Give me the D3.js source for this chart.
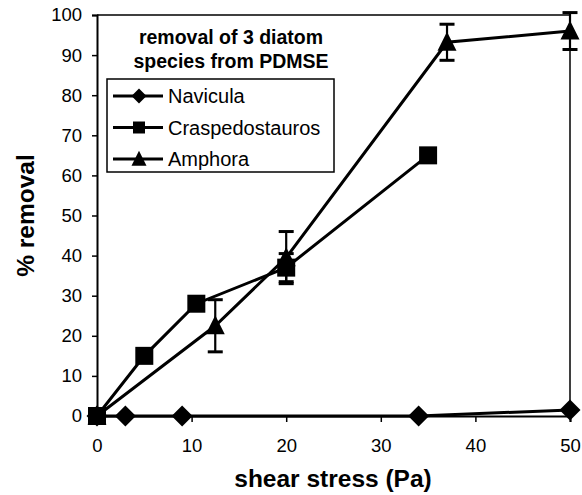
<!DOCTYPE html>
<html>
<head>
<meta charset="utf-8">
<script src="https://cdn.jsdelivr.net/npm/d3@7"></script>
<style>
  body { margin: 0; background: #fff; }
  text { font-family: Arial, "Liberation Sans", sans-serif; fill: #000; }
</style>
</head>
<body>
<div id="chart"></div>
<script>
// data
const xTicks = [0, 10, 20, 30, 40, 50];
const yTicks = [0, 10, 20, 30, 40, 50, 60, 70, 80, 90, 100];

const naviculaX = [0, 3, 9, 34, 50];
const naviculaY = [0, 0, 0, 0, 1.5];

const craspX = [0, 5, 10.5, 20, 35];
const craspY = [0, 15, 28, 37, 65];
const craspErr = [0, 0, 0, 3.5, 0];

const amphoraX = [0, 12.5, 20, 37, 50];
const amphoraY = [0, 22.5, 39.5, 93.2, 96];
const amphoraErr = [0, 6.5, 6.5, 4.5, 4.6];

const seriesNames = ["Navicula", "Craspedostauros", "Amphora"];
const titleLines = ["removal of 3 diatom", "species from PDMSE"];

const W = 582, H = 495;
const margin = { top: 15, right: 12, bottom: 79, left: 97 };

const svg = d3.select("#chart").append("svg")
    .attr("width", W)
    .attr("height", H);

const x = d3.scaleLinear().domain([0, 50]).range([margin.left, W - margin.right]);
const y = d3.scaleLinear().domain([0, 100]).range([H - margin.bottom, margin.top]);

// marker shapes, w = full width
const shapes = {
  diamond: w => `M0,${-w / 2}L${w / 2},0L0,${w / 2}L${-w / 2},0Z`,
  square: w => `M${-w / 2},${-w / 2}h${w}v${w}h${-w}Z`,
  triangle: w => `M0,${-w * 0.55}L${w / 2},${w * 0.45}L${-w / 2},${w * 0.45}Z`
};

// plot frame (top + right)
svg.append("path")
    .attr("d", `M${x(0)},${y(100)}H${x(50)}V${y(0)}`)
    .attr("fill", "none")
    .attr("stroke", "#000")
    .attr("stroke-width", 1.5);

// axes
const yAxis = svg.append("g")
    .attr("transform", `translate(${x(0)},0)`)
    .call(d3.axisLeft(y).tickValues(yTicks).tickSize(5).tickPadding(10));
const xAxis = svg.append("g")
    .attr("transform", `translate(0,${y(0)})`)
    .call(d3.axisBottom(x).tickValues(xTicks).tickSize(6).tickPadding(17));

[yAxis, xAxis].forEach(g => {
  g.select(".domain").attr("stroke-width", 2);
  g.selectAll(".tick line").attr("stroke-width", 1.5);
  g.selectAll(".tick text")
    .style("font-size", "18.5px")
    .attr("fill", "#000");
});

// axis titles
svg.append("text")
    .attr("transform", `translate(34,${(y(0) + y(100)) / 2}) rotate(-90)`)
    .attr("text-anchor", "middle")
    .style("font-size", "24.5px")
    .style("font-weight", "bold")
    .text("% removal");

svg.append("text")
    .attr("x", 333)
    .attr("y", 487)
    .attr("text-anchor", "middle")
    .style("font-size", "24.5px")
    .style("font-weight", "bold")
    .text("shear stress (Pa)");

// series
const series = [
  { name: seriesNames[0], xs: naviculaX, ys: naviculaY, err: null, shape: "diamond", w: 21, lw: 15 },
  { name: seriesNames[1], xs: craspX, ys: craspY, err: craspErr, shape: "square", w: 18, lw: 12 },
  { name: seriesNames[2], xs: amphoraX, ys: amphoraY, err: amphoraErr, shape: "triangle", w: 19, lw: 15 }
];

const line = d3.line().x(d => x(d[0])).y(d => y(d[1]));

series.forEach(s => {
  const pts = s.xs.map((v, i) => [v, s.ys[i], s.err ? s.err[i] : 0]);

  // error bars
  const eb = svg.append("g");
  pts.filter(p => p[2] > 0).forEach(p => {
    const cx = x(p[0]);
    eb.append("line")
      .attr("x1", cx).attr("x2", cx)
      .attr("y1", y(p[1] - p[2])).attr("y2", y(p[1] + p[2]))
      .attr("stroke", "#000").attr("stroke-width", 2.2);
    [p[1] - p[2], p[1] + p[2]].forEach(v => {
      eb.append("line")
        .attr("x1", cx - 7.5).attr("x2", cx + 7.5)
        .attr("y1", y(v)).attr("y2", y(v))
        .attr("stroke", "#000").attr("stroke-width", 3);
    });
  });

  svg.append("path")
    .datum(pts)
    .attr("d", line)
    .attr("fill", "none")
    .attr("stroke", "#000")
    .attr("stroke-width", 3);

  svg.append("g").selectAll("path")
    .data(pts)
    .join("path")
      .attr("transform", d => `translate(${x(d[0])},${y(d[1])})`)
      .attr("d", shapes[s.shape](s.w))
      .attr("fill", "#000");
});

// chart title inside the plot
svg.append("text")
    .attr("text-anchor", "middle")
    .style("font-size", "19.5px")
    .style("font-weight", "bold")
    .selectAll("tspan")
    .data(titleLines)
    .join("tspan")
      .attr("x", 231)
      .attr("y", (d, i) => 44 + i * 24)
      .text(d => d);

// legend
const legend = svg.append("g");
legend.append("rect")
    .attr("x", 107).attr("y", 79)
    .attr("width", 227).attr("height", 93)
    .attr("fill", "#fff")
    .attr("stroke", "#000")
    .attr("stroke-width", 1.5);

series.forEach((s, i) => {
  const cy = 96 + i * 31.5;
  legend.append("line")
    .attr("x1", 113).attr("x2", 163)
    .attr("y1", cy).attr("y2", cy)
    .attr("stroke", "#000").attr("stroke-width", 3);
  legend.append("path")
    .attr("transform", `translate(139,${cy})`)
    .attr("d", shapes[s.shape](s.lw))
    .attr("fill", "#000");
  legend.append("text")
    .attr("x", 168).attr("y", cy)
    .attr("dy", "0.36em")
    .style("font-size", "20px")
    .text(s.name);
});
</script>
</body>
</html>
